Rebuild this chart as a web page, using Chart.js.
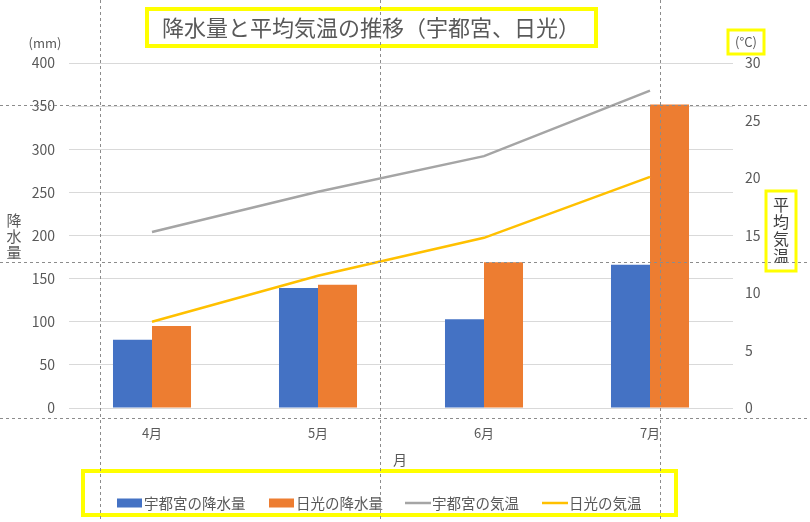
<!DOCTYPE html>
<html lang="ja">
<head>
<meta charset="utf-8">
<title>降水量と平均気温の推移</title>
<script src="https://cdn.jsdelivr.net/npm/chart.js@4/dist/chart.umd.min.js"></script>
<style>
  body { margin: 0; background: #fff; }
  canvas { display: block; }
</style>
</head>
<body>
<canvas id="chart" width="810" height="522"></canvas>
<script>
// データ
const months = ["4月", "5月", "6月", "7月"];
const utsunomiyaRain = [79, 139, 103, 166];   // 宇都宮の降水量 (mm)
const nikkoRain = [95, 143, 169, 352];        // 日光の降水量 (mm)
const utsunomiyaTemp = [15.3, 18.8, 21.9, 27.6]; // 宇都宮の気温 (℃)
const nikkoTemp = [7.5, 11.5, 14.8, 20.1];       // 日光の気温 (℃)
const rainAxis = { min: 0, max: 400, step: 50 };
const tempAxis = { min: 0, max: 30, step: 5 };

const TEXT = "#595959";
const YELLOW = "#ffff00";
const JP = "'Noto Sans CJK JP', 'Noto Sans', sans-serif";

// 黄色い枠
function yellowBox(ctx, x, y, w, h, lw) {
    ctx.save();
    ctx.strokeStyle = YELLOW;
    ctx.lineWidth = lw;
    ctx.strokeRect(x, y, w, h);
    ctx.restore();
}

// 縦書きテキスト
function verticalText(ctx, str, x, y, step, font, color) {
    ctx.save();
    ctx.font = font;
    ctx.fillStyle = color;
    ctx.textAlign = "center";
    ctx.textBaseline = "middle";
    [...str].forEach((ch, i) => ctx.fillText(ch, x, y + i * step));
    ctx.restore();
}

const decorations = {
    id: "decorations",
    beforeDraw(chart) {
        const ctx = chart.ctx;
        ctx.save();
        ctx.fillStyle = "#fff";
        ctx.fillRect(0, 0, chart.width, chart.height);
        ctx.restore();
    },
    afterDraw(chart) {
        const ctx = chart.ctx;
        ctx.save();

        // タイトル
        yellowBox(ctx, 147, 9, 449, 37, 4);
        ctx.font = "22px " + JP;
        ctx.fillStyle = TEXT;
        ctx.textAlign = "center";
        ctx.textBaseline = "middle";
        ctx.fillText("降水量と平均気温の推移（宇都宮、日光）", 371, 28);

        // 単位
        ctx.font = "13px " + JP;
        ctx.fillText("(mm)", 45, 43);
        yellowBox(ctx, 728, 30, 36, 24, 3);
        ctx.fillText("(°C)", 746, 42);

        // 軸タイトル
        verticalText(ctx, "降水量", 14, 220, 16, "15px " + JP, TEXT);
        yellowBox(ctx, 766, 191, 30, 80, 3);
        verticalText(ctx, "平均気温", 781, 205, 17, "16px " + JP, "#404040");
        ctx.font = "14px " + JP;
        ctx.fillStyle = TEXT;
        ctx.fillText("月", 400, 460);

        // 凡例
        yellowBox(ctx, 83, 471, 593, 44, 4);
        const ds = chart.data.datasets;
        const legendPos = [
            { x: 117, tx: 144 },
            { x: 269, tx: 296 },
            { x: 405, tx: 432 },
            { x: 542, tx: 569 }
        ];
        const ly = 503;
        ctx.font = "14.5px " + JP;
        ctx.textAlign = "left";
        ctx.textBaseline = "middle";
        ds.forEach((d, i) => {
            const p = legendPos[i];
            if (d.type === "bar") {
                ctx.fillStyle = d.backgroundColor;
                ctx.fillRect(p.x, ly - 4.5, 25, 9);
            } else {
                ctx.strokeStyle = d.borderColor;
                ctx.lineWidth = 2.5;
                ctx.beginPath();
                ctx.moveTo(p.x, ly);
                ctx.lineTo(p.x + 26, ly);
                ctx.stroke();
            }
            ctx.fillStyle = TEXT;
            ctx.fillText(d.label, p.tx, ly);
        });

        // 点線のガイド
        ctx.strokeStyle = "#8c8c8c";
        ctx.lineWidth = 1;
        ctx.setLineDash([3, 3]);
        [100, 380, 660].forEach(x => {
            ctx.beginPath();
            ctx.moveTo(x + 0.5, 0);
            ctx.lineTo(x + 0.5, chart.height);
            ctx.stroke();
        });
        [105, 262, 418].forEach(y => {
            ctx.beginPath();
            ctx.moveTo(0, y + 0.5);
            ctx.lineTo(chart.width, y + 0.5);
            ctx.stroke();
        });
        ctx.restore();
    }
};

const ctx = document.getElementById("chart").getContext("2d");
new Chart(ctx, {
    data: {
        labels: months,
        datasets: [
            {
                type: "bar",
                label: "宇都宮の降水量",
                data: utsunomiyaRain,
                backgroundColor: "#4472c4",
                yAxisID: "y",
                order: 2
            },
            {
                type: "bar",
                label: "日光の降水量",
                data: nikkoRain,
                backgroundColor: "#ed7d31",
                yAxisID: "y",
                order: 2
            },
            {
                type: "line",
                label: "宇都宮の気温",
                data: utsunomiyaTemp,
                borderColor: "#a5a5a5",
                borderWidth: 2.5,
                pointRadius: 0,
                tension: 0,
                yAxisID: "y1",
                order: 1
            },
            {
                type: "line",
                label: "日光の気温",
                data: nikkoTemp,
                borderColor: "#ffc000",
                borderWidth: 2.5,
                pointRadius: 0,
                tension: 0,
                yAxisID: "y1",
                order: 1
            }
        ]
    },
    options: {
        responsive: false,
        devicePixelRatio: 1,
        animation: false,
        layout: { padding: { top: 63, left: 0, right: 0, bottom: 0 } },
        datasets: {
            bar: { barPercentage: 1, categoryPercentage: 0.47 }
        },
        plugins: {
            legend: { display: false },
            title: { display: false },
            tooltip: { enabled: false }
        },
        scales: {
            x: {
                offset: true,
                grid: { display: false, drawTicks: false },
                border: { display: false },
                ticks: { color: TEXT, font: { size: 13, family: JP }, padding: 17 },
                afterFit(scale) { scale.height = 114; }
            },
            y: {
                position: "left",
                min: rainAxis.min,
                max: rainAxis.max,
                ticks: { stepSize: rainAxis.step, color: TEXT, font: { size: 14, family: JP }, padding: 14 },
                grid: { color: "#d9d9d9", lineWidth: 1, drawTicks: false },
                border: { display: false },
                afterFit(scale) { scale.width = 69; }
            },
            y1: {
                position: "right",
                min: tempAxis.min,
                max: tempAxis.max,
                ticks: { stepSize: tempAxis.step, color: TEXT, font: { size: 14, family: JP }, padding: 12 },
                grid: { display: false, drawTicks: false },
                border: { display: false },
                afterFit(scale) { scale.width = 77; }
            }
        }
    },
    plugins: [decorations]
});
</script>
</body>
</html>
